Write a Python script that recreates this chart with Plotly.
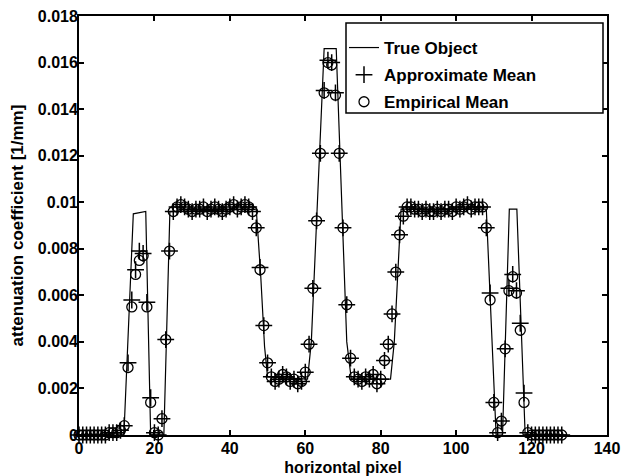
import plotly.graph_objects as go

# ---- data ----
pixel = list(range(0, 129))

empirical_mean = [
    0.0000, 0.0000, 0.0000, 0.0000, 0.0000, 0.0000, 0.0000, 0.0000, 0.0001, 0.0001,   # 0-9
    0.0001, 0.0002, 0.0004, 0.0029, 0.0055, 0.0069, 0.0075, 0.0077, 0.0055, 0.0014,   # 10-19
    0.0001, 0.0000, 0.0007, 0.0041, 0.0079, 0.0096, 0.0098, 0.0099, 0.0098, 0.0097,   # 20-29
    0.0096, 0.0097, 0.0097, 0.0098, 0.0096, 0.0097, 0.0098, 0.0097, 0.0096, 0.0097,   # 30-39
    0.0098, 0.0099, 0.0097, 0.0098, 0.0099, 0.0098, 0.0096, 0.0089, 0.0071, 0.0047,   # 40-49
    0.0031, 0.0025, 0.0023, 0.0024, 0.0026, 0.0025, 0.0023, 0.0024, 0.0022, 0.0023,   # 50-59
    0.0027, 0.0039, 0.0063, 0.0092, 0.0121, 0.0147, 0.0160, 0.0159, 0.0146, 0.0121,   # 60-69
    0.0089, 0.0056, 0.0033, 0.0025, 0.0024, 0.0023, 0.0025, 0.0024, 0.0026, 0.0022,   # 70-79
    0.0024, 0.0032, 0.0039, 0.0052, 0.0070, 0.0086, 0.0094, 0.0098, 0.0098, 0.0097,   # 80-89
    0.0097, 0.0096, 0.0097, 0.0096, 0.0096, 0.0097, 0.0096, 0.0097, 0.0097, 0.0096,   # 90-99
    0.0098, 0.0097, 0.0098, 0.0099, 0.0097, 0.0098, 0.0098, 0.0098, 0.0089, 0.0058,   # 100-109
    0.0014, 0.0001, 0.0006, 0.0037, 0.0062, 0.0068, 0.0061, 0.0045, 0.0014, 0.0001,   # 110-119
    0.0000, 0.0000, 0.0000, 0.0000, 0.0000, 0.0000, 0.0000, 0.0000, 0.0000,           # 120-128
]

approximate_mean = [
    0.0000, 0.0000, 0.0000, 0.0000, 0.0000, 0.0000, 0.0000, 0.0000, 0.0001, 0.0001,
    0.0001, 0.0002, 0.0004, 0.0031, 0.0058, 0.0071, 0.0079, 0.0078, 0.0057, 0.0016,
    0.0001, 0.0000, 0.0007, 0.0041, 0.0079, 0.0096, 0.0098, 0.0099, 0.0098, 0.0097,
    0.0096, 0.0097, 0.0097, 0.0098, 0.0096, 0.0097, 0.0098, 0.0097, 0.0096, 0.0097,
    0.0098, 0.0099, 0.0097, 0.0098, 0.0099, 0.0098, 0.0096, 0.0089, 0.0072, 0.0047,
    0.0031, 0.0025, 0.0023, 0.0024, 0.0026, 0.0025, 0.0023, 0.0024, 0.0022, 0.0023,
    0.0027, 0.0039, 0.0063, 0.0092, 0.0121, 0.0148, 0.0161, 0.0160, 0.0147, 0.0121,
    0.0089, 0.0056, 0.0033, 0.0025, 0.0024, 0.0023, 0.0025, 0.0024, 0.0026, 0.0022,
    0.0024, 0.0032, 0.0039, 0.0052, 0.0070, 0.0086, 0.0094, 0.0098, 0.0098, 0.0097,
    0.0097, 0.0096, 0.0097, 0.0096, 0.0096, 0.0097, 0.0096, 0.0097, 0.0097, 0.0096,
    0.0098, 0.0097, 0.0098, 0.0099, 0.0097, 0.0098, 0.0098, 0.0098, 0.0089, 0.0061,
    0.0014, 0.0001, 0.0006, 0.0037, 0.0063, 0.0069, 0.0062, 0.0048, 0.0018, 0.0001,
    0.0000, 0.0000, 0.0000, 0.0000, 0.0000, 0.0000, 0.0000, 0.0000, 0.0000,
]

true_x = [0, 11.9, 14.4, 17.7, 19.0, 22.5, 24.1, 47.0, 48.2, 49.2, 50.0, 60.6,
          61.6, 65.0, 68.2, 71.0, 72.2, 82.6, 83.6, 85.4, 108.0, 110.6, 112.3,
          114.1, 116.1, 118.3, 128]
true_y = [0, 0, 0.0095, 0.0096, 0, 0, 0.0096, 0.0097, 0.0068, 0.0038, 0.0025, 0.0024,
          0.0040, 0.0166, 0.0166, 0.0040, 0.0024, 0.0024, 0.0040, 0.0097, 0.0097, 0, 0,
          0.0097, 0.0097, 0, 0]

x_ticks = [0, 20, 40, 60, 80, 100, 120, 140]
y_ticks = [0, 0.002, 0.004, 0.006, 0.008, 0.01, 0.012, 0.014, 0.016, 0.018]
y_tick_labels = ["0", "0.002", "0.004", "0.006", "0.008", "0.01", "0.012", "0.014", "0.016", "0.018"]

FONT = "Liberation Sans, Arial, Helvetica, sans-serif"

fig = go.Figure()
fig.add_trace(go.Scatter(
    x=true_x, y=true_y, mode="lines", name="True Object",
    line=dict(color="black", width=1.2), legendgroup="a", cliponaxis=False))
fig.add_trace(go.Scatter(
    x=pixel, y=approximate_mean, mode="markers", name="Approximate Mean",
    marker=dict(symbol="cross-thin-open", size=12, color="black",
                line=dict(color="black", width=1.5)),
    legendgroup="b", cliponaxis=False))
fig.add_trace(go.Scatter(
    x=pixel, y=empirical_mean, mode="markers", name="Empirical Mean",
    marker=dict(symbol="circle-open", size=10, color="black", line=dict(color="black", width=1.3)),
    legendgroup="c", cliponaxis=False))

axis_common = dict(
    showline=True, linecolor="black", linewidth=1.8, mirror="ticks",
    ticks="inside", ticklen=5, tickwidth=1.5, tickcolor="black",
    showgrid=False, zeroline=False,
    tickfont=dict(family=FONT, size=16, color="black", weight="bold"),
)

fig.update_xaxes(range=[0, 140], tickvals=x_ticks, **axis_common,
                 ticklabelstandoff=-2,
                 title=dict(text="horizontal pixel", standoff=11,
                            font=dict(family=FONT, size=16, color="black", weight="bold")))
fig.update_yaxes(range=[0, 0.018], tickvals=y_ticks, ticktext=y_tick_labels, **axis_common,
                 ticklabelstandoff=-4,
                 title=dict(text="attenuation coefficient [1/mm]", standoff=10,
                            font=dict(family=FONT, size=17, color="black", weight="bold")))

fig.add_shape(type="rect", xref="paper", yref="paper",
              x0=(346 - 79) / 528, x1=(603 - 79) / 528,
              y0=(435 - 113) / 419, y1=(435 - 23) / 419,
              line=dict(color="black", width=1.5), fillcolor="white", layer="above")

fig.update_layout(
    width=625, height=476,
    margin=dict(l=79, r=18, t=16, b=41, autoexpand=False),
    paper_bgcolor="white", plot_bgcolor="white",
    font=dict(family=FONT, size=17, color="black"),
    showlegend=True,
    legend=dict(x=(344 - 79) / 528, y=(435 - 30) / 419, xanchor="left", yanchor="top",
                bgcolor="rgba(0,0,0,0)", borderwidth=0, traceorder="grouped",
                tracegroupgap=2,
                font=dict(family=FONT, size=17, color="black", weight="bold")),
)

fig.write_html("out.html", config={"displayModeBar": False},
               post_script="document.body.style.margin='0px';")
